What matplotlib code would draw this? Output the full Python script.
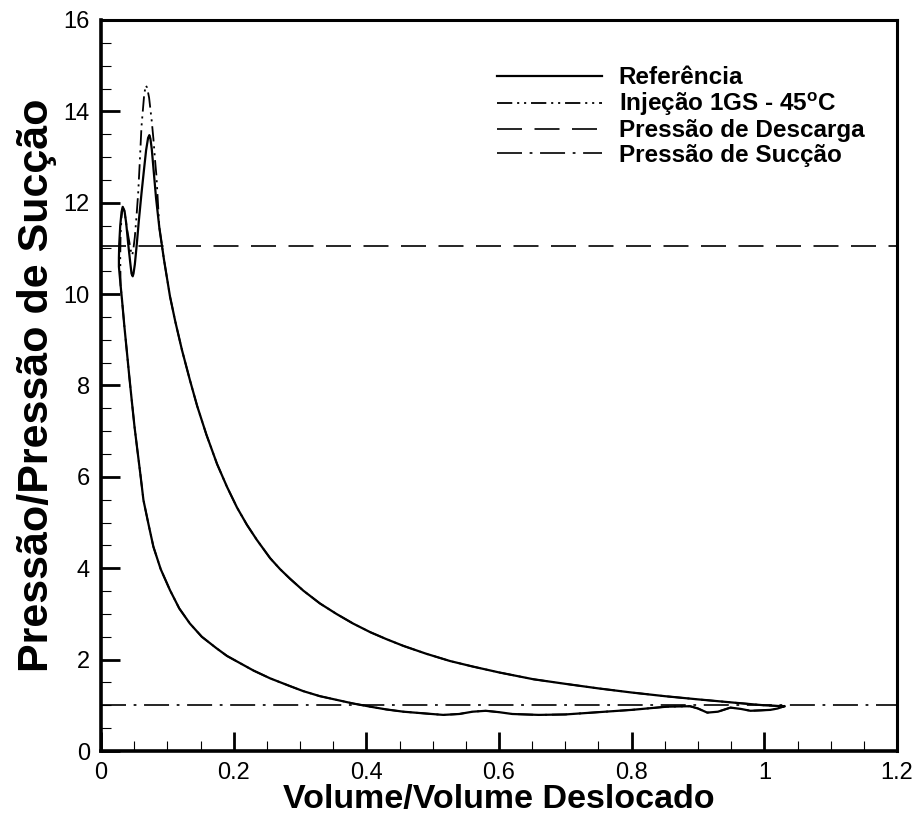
import numpy as np
import matplotlib
matplotlib.use('Agg')
import matplotlib.pyplot as plt
from matplotlib.lines import Line2D
from matplotlib.ticker import MultipleLocator, FormatStrFormatter

plt.rcParams['font.family'] = ['Liberation Sans', 'DejaVu Sans']
plt.rcParams['mathtext.fontset'] = 'custom'
plt.rcParams['mathtext.rm'] = 'Liberation Sans'
plt.rcParams['mathtext.bf'] = 'Liberation Sans:bold'
plt.rcParams['lines.scale_dashes'] = False

# compression (from bottom dead centre up to the discharge region), shared by both runs
comp_v = [1.030, 1.000, 0.953, 0.900, 0.850, 0.800, 0.750, 0.700, 0.652, 0.600,
          0.560, 0.526, 0.490, 0.456, 0.430, 0.406, 0.380, 0.355, 0.330, 0.305,
          0.285, 0.270, 0.255, 0.235, 0.220, 0.205, 0.190, 0.175, 0.159, 0.145,
          0.134, 0.122, 0.112, 0.104, 0.095, 0.088]
comp_p = [0.98, 1.00, 1.06, 1.13, 1.20, 1.28, 1.37, 1.47, 1.57, 1.72,
          1.85, 1.97, 2.13, 2.30, 2.45, 2.60, 2.79, 3.00, 3.23, 3.51,
          3.77, 3.98, 4.22, 4.62, 4.95, 5.33, 5.78, 6.28, 6.92, 7.55,
          8.12, 8.78, 9.40, 9.95, 10.75, 11.45]

# discharge region, reference
ref_top_v = [0.083, 0.0785, 0.0765, 0.0745, 0.0729, 0.071, 0.068, 0.065, 0.061, 0.057,
             0.054, 0.051, 0.049, 0.0478, 0.046, 0.044, 0.041, 0.038, 0.0355, 0.0327,
             0.031, 0.029, 0.0275, 0.027, 0.027]
ref_top_p = [12.10, 12.85, 13.18, 13.40, 13.48, 13.42, 13.15, 12.75, 12.20, 11.60,
             11.10, 10.65, 10.45, 10.39, 10.45, 10.70, 11.10, 11.55, 11.82, 11.91,
             11.80, 11.50, 11.10, 10.80, 10.60]

# discharge region, injection 1GS - 45C
inj_top_v = [0.0835, 0.0815, 0.079, 0.0764, 0.0725, 0.0695, 0.0674, 0.065, 0.061, 0.0585,
             0.056, 0.0535, 0.051, 0.0485, 0.047, 0.045, 0.042, 0.0387, 0.0355, 0.033,
             0.031, 0.0295, 0.029]
inj_top_p = [12.60, 12.93, 13.40, 13.80, 14.30, 14.52, 14.57, 14.35, 13.66, 12.90,
             12.20, 11.70, 11.25, 10.95, 10.85, 10.95, 11.20, 11.47, 11.80, 11.90,
             11.70, 11.30, 10.80]

# expansion and suction, shared by both runs
exp_v = [0.0295, 0.0317, 0.0352, 0.0388, 0.0425, 0.0463, 0.0505, 0.0548, 0.0595, 0.064,
         0.0715, 0.079, 0.090, 0.104, 0.118, 0.134, 0.152, 0.174, 0.190, 0.210,
         0.230, 0.255, 0.285, 0.305, 0.330, 0.355, 0.380, 0.406, 0.430, 0.456,
         0.490, 0.516, 0.540, 0.560, 0.580, 0.600, 0.620, 0.660, 0.700, 0.750,
         0.800, 0.853, 0.888, 0.900, 0.914, 0.930, 0.949, 0.965, 0.979, 0.995,
         1.009, 1.020, 1.030]
exp_p = [10.20, 9.87, 9.30, 8.77, 8.22, 7.68, 7.10, 6.59, 6.04, 5.49,
         4.97, 4.47, 3.98, 3.52, 3.12, 2.79, 2.50, 2.25, 2.08, 1.92,
         1.76, 1.59, 1.42, 1.31, 1.20, 1.12, 1.04, 0.97, 0.91, 0.86,
         0.82, 0.79, 0.81, 0.86, 0.88, 0.85, 0.81, 0.79, 0.80, 0.85,
         0.90, 0.97, 0.98, 0.93, 0.84, 0.86, 0.95, 0.92, 0.88, 0.89,
         0.90, 0.93, 0.98]

p_descarga = 11.05
p_succao = 1.0

ref_v = comp_v + ref_top_v + exp_v
ref_p = comp_p + ref_top_p + exp_p
inj_v = comp_v + inj_top_v + exp_v
inj_p = comp_p + inj_top_p + exp_p

fig = plt.figure(figsize=(9.2, 8.16), dpi=100)
ax = fig.add_axes([101/920, 1 - 751/816, 796/920, 731/816])

ls_inj = (0, (11, 3.5, 1.5, 3.5, 1.5, 3.5))
ls_desc = (0, (18, 9))
ls_suc = (0, (18, 5.5, 2, 5.5))

ax.plot(inj_v, inj_p, color='black', lw=1.3, linestyle=ls_inj, zorder=3)
ax.plot(ref_v, ref_p, color='black', lw=1.6, zorder=4)
ax.axhline(p_descarga, color='black', lw=1.2, linestyle=ls_desc)
ax.axhline(p_succao, color='black', lw=1.2, linestyle=ls_suc)

ax.set_xlim(0, 1.2)
ax.set_ylim(0, 16)
ax.xaxis.set_major_locator(MultipleLocator(0.2))
ax.xaxis.set_minor_locator(MultipleLocator(0.05))
ax.yaxis.set_major_locator(MultipleLocator(2))
ax.yaxis.set_minor_locator(MultipleLocator(0.5))
ax.xaxis.set_major_formatter(FormatStrFormatter('%g'))

ax.tick_params(which='major', direction='in', length=13.5, width=2.0, labelsize=17, pad=8)
ax.tick_params(which='minor', direction='in', length=7.5, width=0.8)
for s in ['left', 'bottom']:
    ax.spines[s].set_linewidth(2.6)
for s in ['top', 'right']:
    ax.spines[s].set_linewidth(2.2)

ax.set_xlabel('Volume/Volume Deslocado', fontsize=24.5, fontweight='bold', labelpad=0)
ax.set_ylabel('Pressão/Pressão de Sucção', fontsize=31, fontweight='bold', labelpad=5)

handles = [
    Line2D([], [], color='black', lw=1.6),
    Line2D([], [], color='black', lw=1.3, linestyle=ls_inj),
    Line2D([], [], color='black', lw=1.2, linestyle=ls_desc),
    Line2D([], [], color='black', lw=1.2, linestyle=ls_suc),
]
labels = ['Referência', 'Injeção 1GS - 45$^\\mathbf{o}$C', 'Pressão de Descarga', 'Pressão de Sucção']
leg = ax.legend(handles, labels, loc='upper left', bbox_to_anchor=(0.4975, 0.937),
                frameon=False, borderpad=0, borderaxespad=0, handlelength=4.3,
                handletextpad=0.7, labelspacing=0.05,
                prop={'weight': 'bold', 'size': 17.5})

fig.savefig('out.png', dpi=100)
